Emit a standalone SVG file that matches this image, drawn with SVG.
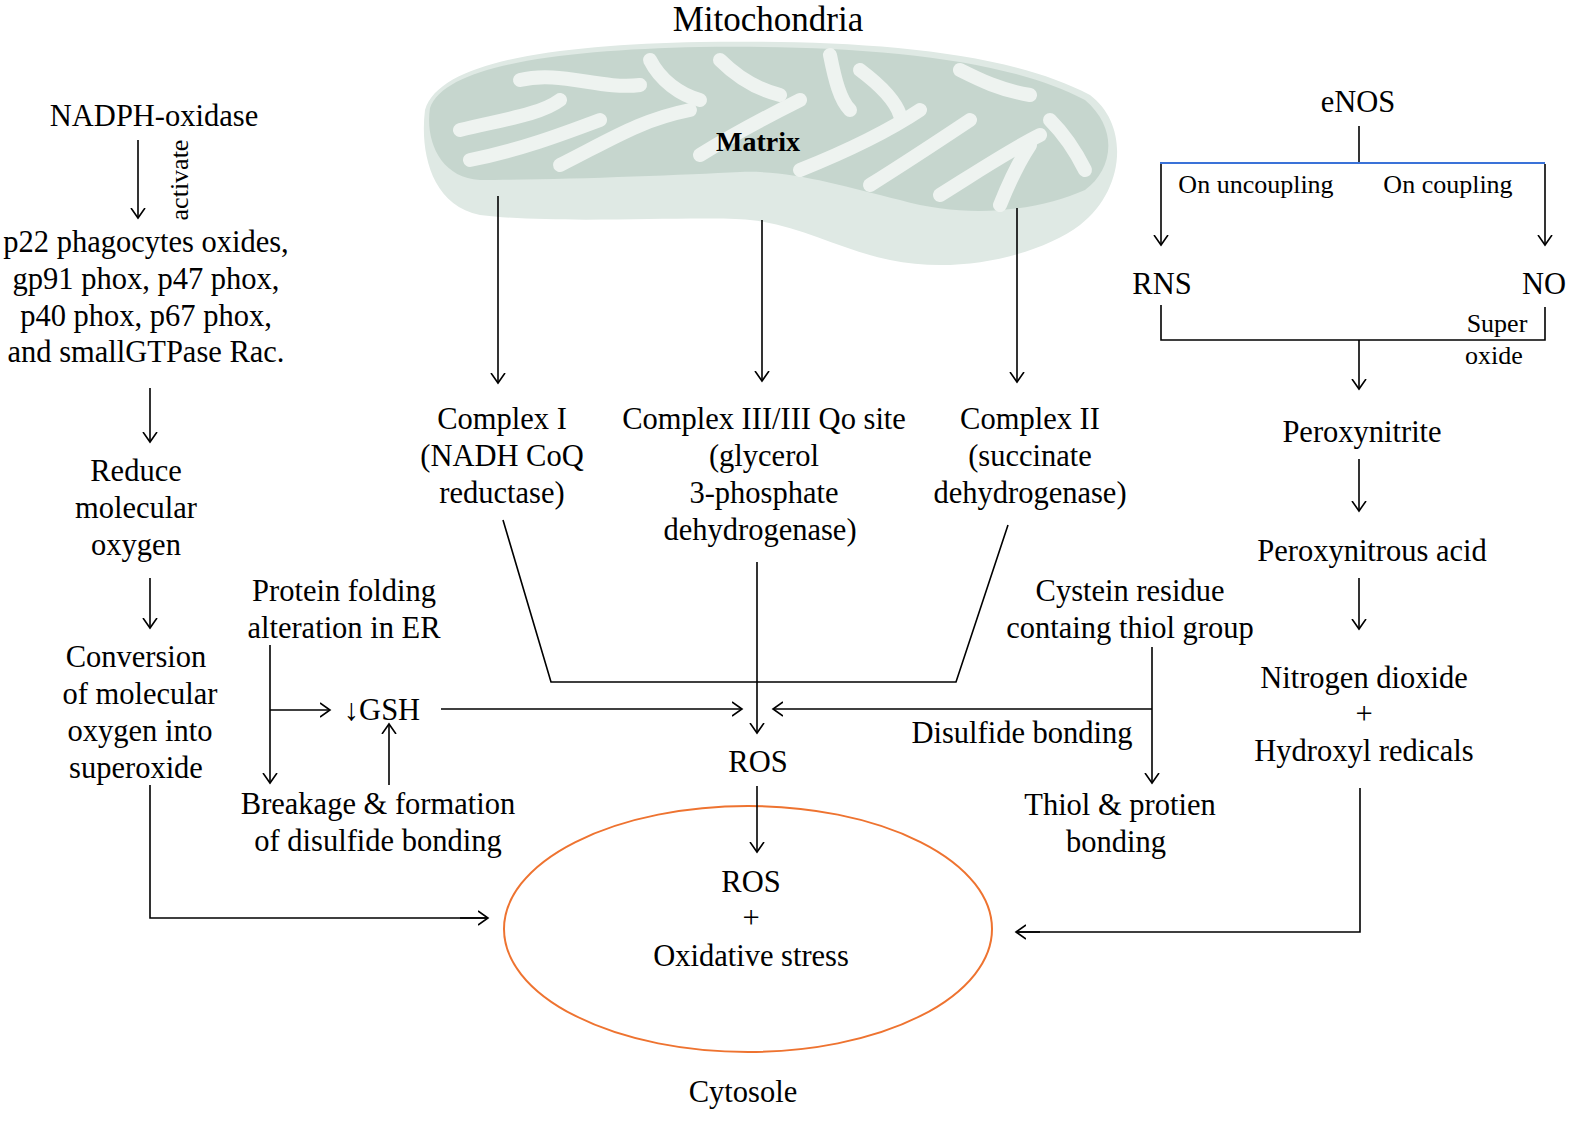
<svg xmlns="http://www.w3.org/2000/svg" width="1595" height="1130" viewBox="0 0 1595 1130">
<defs>
<marker id="a" markerWidth="20" markerHeight="20" refX="10" refY="10" orient="auto" markerUnits="userSpaceOnUse"><path d="M0,3 L10,10 L0,17" fill="none" stroke="#000" stroke-width="1.6"/></marker>
</defs>
<style>
text{font-family:"Liberation Serif","Times New Roman",serif;font-size:30.5px;fill:#000;text-anchor:middle}
.s{font-size:26px}
.l{fill:none;stroke:#000;stroke-width:1.6}
.ar{fill:none;stroke:#000;stroke-width:1.6;marker-end:url(#a)}
.cr{fill:none;stroke:#eef3f0;stroke-width:14;stroke-linecap:round}
</style>
<rect width="1595" height="1130" fill="#fff"/>
<g id="mito">
<path d="M425,110 C440,60 560,45 700,42 C850,40 1000,48 1090,95 C1130,125 1125,190 1080,225 C1040,255 960,275 890,260 C840,250 800,225 750,220 C700,215 560,225 480,215 C430,205 420,150 425,110 Z" fill="#dfe9e4"/>
<path d="M430,108 C445,65 560,50 700,47 C850,45 1000,55 1085,100 C1120,130 1112,170 1085,190 C1040,210 970,220 900,200 C840,185 790,170 740,172 C680,175 560,180 480,180 C440,178 425,140 430,108 Z" fill="#c6d6ce"/>
<g>
<path class="cr" d="M460,130 C500,120 540,115 560,100"/>
<path class="cr" d="M470,160 C520,150 560,135 600,120"/>
<path class="cr" d="M520,80 C560,70 600,90 640,85"/>
<path class="cr" d="M560,165 C610,140 640,120 690,110"/>
<path class="cr" d="M650,60 C660,80 680,95 700,100"/>
<path class="cr" d="M700,155 C740,130 770,115 800,100"/>
<path class="cr" d="M720,60 C740,80 760,90 780,95"/>
<path class="cr" d="M830,55 C835,80 840,100 850,110"/>
<path class="cr" d="M860,70 C880,85 895,100 900,115"/>
<path class="cr" d="M800,170 C850,150 890,130 920,110"/>
<path class="cr" d="M870,185 C910,160 940,140 970,120"/>
<path class="cr" d="M960,70 C980,80 1000,90 1030,95"/>
<path class="cr" d="M940,195 C980,170 1010,150 1040,135"/>
<path class="cr" d="M1000,205 C1010,180 1020,160 1030,145"/>
<path class="cr" d="M1050,120 C1070,140 1080,160 1085,170"/>
</g>
<text x="758" y="151" style="font-weight:bold;font-size:28px">Matrix</text>
</g>
<text x="768" y="31" style="font-size:35px">Mitochondria</text>

<g id="left">
<text x="154" y="126">NADPH-oxidase</text>
<text x="188" y="180" class="s" transform="rotate(-90 188 180)">activate</text>
<text x="146" y="252">p22 phagocytes oxides,</text>
<text x="146" y="289">gp91 phox, p47 phox,</text>
<text x="146" y="326">p40 phox, p67 phox,</text>
<text x="146" y="362">and smallGTPase Rac.</text>
<text x="136" y="481">Reduce</text>
<text x="136" y="518">molecular</text>
<text x="136" y="555">oxygen</text>
<text x="136" y="667">Conversion</text>
<text x="140" y="704">of molecular</text>
<text x="140" y="741">oxygen into</text>
<text x="136" y="778">superoxide</text>
</g>
<g id="er">
<text x="344" y="601">Protein folding</text>
<text x="344" y="638">alteration in ER</text>
<text x="382" y="720">↓GSH</text>
<text x="378" y="814">Breakage &amp; formation</text>
<text x="378" y="851">of disulfide bonding</text>
</g>
<g id="complexes">
<text x="502" y="429">Complex I</text>
<text x="502" y="466">(NADH CoQ</text>
<text x="502" y="503">reductase)</text>
<text x="764" y="429">Complex III/III Qo site</text>
<text x="764" y="466">(glycerol</text>
<text x="764" y="503">3-phosphate</text>
<text x="760" y="540">dehydrogenase)</text>
<text x="1030" y="429">Complex II</text>
<text x="1030" y="466">(succinate</text>
<text x="1030" y="503">dehydrogenase)</text>
<text x="758" y="772">ROS</text>
</g>
<g id="thiol">
<text x="1130" y="601">Cystein residue</text>
<text x="1130" y="638">containg thiol group</text>
<text x="1022" y="743">Disulfide bonding</text>
<text x="1120" y="815">Thiol &amp; protien</text>
<text x="1116" y="852">bonding</text>
</g>
<g id="right">
<text x="1358" y="112">eNOS</text>
<text x="1256" y="193" class="s">On uncoupling</text>
<text x="1448" y="193" class="s">On coupling</text>
<text x="1162" y="294">RNS</text>
<text x="1544" y="294">NO</text>
<text x="1497" y="332" class="s">Super</text>
<text x="1494" y="364" class="s">oxide</text>
<text x="1362" y="442">Peroxynitrite</text>
<text x="1372" y="561">Peroxynitrous acid</text>
<text x="1364" y="688">Nitrogen dioxide</text>
<text x="1364" y="724">+</text>
<text x="1364" y="761">Hydroxyl redicals</text>
</g>
<g id="cytosol">
<ellipse cx="748" cy="929" rx="244" ry="123" fill="none" stroke="#ee7330" stroke-width="2"/>
<text x="751" y="892">ROS</text>
<text x="751" y="928">+</text>
<text x="751" y="966">Oxidative stress</text>
<text x="743" y="1102">Cytosole</text>
</g>
<g id="connectors">
<path class="ar" d="M138,140 V218"/>
<path class="ar" d="M150,388 V442"/>
<path class="ar" d="M150,578 V628"/>
<path class="l" d="M150,785 V918 H488"/><path class="ar" d="M460,918 H488"/>
<path class="ar" d="M270,645 V783"/>
<path class="ar" d="M270,710 H330"/>
<path class="ar" d="M389,785 V724"/>
<path class="ar" d="M441,709 H742"/>
<path class="ar" d="M498,196 V383"/>
<path class="ar" d="M762,220 V381"/>
<path class="ar" d="M1017,208 V382"/>
<path class="l" d="M503,520 L551,682 H956 L1008,525"/>
<path class="ar" d="M757,562 V733"/>
<path class="ar" d="M757,786 V852"/>
<path class="ar" d="M1152,647 V783"/>
<path class="ar" d="M1152,709 H773"/>
<path class="l" d="M1359,126 V162"/>
<path d="M1160,163 H1545" stroke="#3a72d8" stroke-width="2" fill="none"/>
<path class="ar" d="M1161,164 V245"/>
<path class="ar" d="M1545,164 V245"/>
<path class="l" d="M1161,305 V340 H1545 V307"/>
<path class="ar" d="M1359,340 V389"/>
<path class="ar" d="M1359,459 V511"/>
<path class="ar" d="M1359,578 V629"/>
<path class="l" d="M1360,788 V932 H1016"/><path class="ar" d="M1040,932 H1016"/>
</g>
</svg>
